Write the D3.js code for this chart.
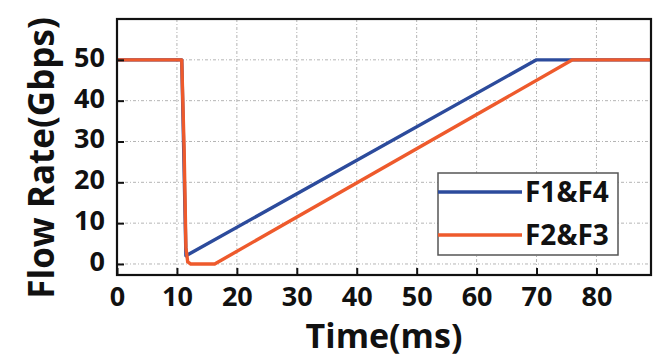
<!DOCTYPE html>
<html>
<head>
<meta charset="utf-8">
<script src="https://cdn.jsdelivr.net/npm/d3@7"></script>
<style>
  body { margin: 0; background: #fff; }
  svg text { font-family: "Open Sans", Lato, sans-serif; font-weight: 700; fill: #111; }
</style>
</head>
<body>
<svg id="chart" width="653" height="357"></svg>
<script>
// x ticks (ms) and y ticks (Gbps)
var xTicks = [0, 10, 20, 30, 40, 50, 60, 70, 80];
var yTicks = [0, 10, 20, 30, 40, 50];

// series: [time ms, rate Gbps]
var f1f4 = [[0, 50], [10.8, 50], [11.1, 30], [11.5, 2], [70, 50], [89, 50]];
var f2f3 = [[0, 50], [10.8, 50], [11.2, 28], [11.5, 4], [11.8, 0.5], [12.3, 0], [16.3, 0], [76, 50], [89, 50]];

var seriesNames = ['F1&F4', 'F2&F3'];
var seriesColors = ['#2c4b9c', '#ee5a2c'];

var svg = d3.select('#chart');
var margin = { top: 19, right: 2, bottom: 82, left: 117 };
var width = 653 - margin.left - margin.right,
    height = 357 - margin.top - margin.bottom;

var x = d3.scaleLinear().domain([0, 89.1]).range([0, width]);
var y = d3.scaleLinear().domain([-2.7, 60]).range([height, 0]);

var g = svg.append('g').attr('transform', 'translate(' + margin.left + ',' + margin.top + ')');

// dotted grid
g.append('g').selectAll('line.vg').data(xTicks.slice(1)).enter().append('line')
  .attr('x1', d => x(d)).attr('x2', d => x(d)).attr('y1', 0).attr('y2', height)
  .attr('stroke', '#b5b5b5').attr('stroke-width', 1).attr('stroke-dasharray', '3,2,1,2');
g.append('g').selectAll('line.hg').data(yTicks).enter().append('line')
  .attr('x1', 0).attr('x2', width).attr('y1', d => y(d)).attr('y2', d => y(d))
  .attr('stroke', '#b5b5b5').attr('stroke-width', 1).attr('stroke-dasharray', '3,2,1,2');

// lines
var line = d3.line().x(d => x(d[0])).y(d => y(d[1]));
[f1f4, f2f3].forEach(function(s, i) {
  g.append('path').datum(s).attr('d', line)
    .attr('fill', 'none').attr('stroke', seriesColors[i]).attr('stroke-width', 3.4)
    .attr('stroke-linejoin', 'round');
});

// axes, ticks pointing inward
var xAxis = g.append('g').attr('transform', 'translate(0,' + height + ')')
  .call(d3.axisBottom(x).tickValues(xTicks).tickSizeInner(-7).tickSizeOuter(0).tickPadding(12));
var yAxis = g.append('g')
  .call(d3.axisLeft(y).tickValues(yTicks).tickSizeInner(-7).tickSizeOuter(0).tickPadding(12));
[xAxis, yAxis].forEach(function(a) {
  a.select('.domain').remove();
  a.selectAll('line').attr('stroke', '#111').attr('stroke-width', 2);
  a.selectAll('text').style('font-size', '27px').style('font-family', '"Open Sans", sans-serif')
    .style('font-weight', 700).attr('fill', '#111');
});
yAxis.selectAll('text').attr('dy', '0.24em');

// frame
g.append('rect').attr('width', width).attr('height', height)
  .attr('fill', 'none').attr('stroke', '#111').attr('stroke-width', 2.2);

// axis titles
svg.append('text').attr('x', margin.left + width / 2).attr('y', 348)
  .attr('text-anchor', 'middle').style('font-size', '34px').text('Time(ms)');
svg.append('text').attr('transform', 'translate(54,158) rotate(-90)')
  .attr('text-anchor', 'middle').style('font-size', '35px').text('Flow Rate(Gbps)');

// legend
var leg = svg.append('g').attr('transform', 'translate(438,173)');
leg.append('rect').attr('width', 180).attr('height', 82)
  .attr('fill', '#fff').attr('stroke', '#555').attr('stroke-width', 1.5);
seriesNames.forEach(function(n, i) {
  var yy = 19 + i * 43;
  leg.append('line').attr('x1', 0).attr('x2', 84).attr('y1', yy).attr('y2', yy)
    .attr('stroke', seriesColors[i]).attr('stroke-width', 3.4);
  leg.append('text').attr('x', 87).attr('y', yy).attr('dy', '0.36em')
    .style('font-size', '28px').text(n);
});
</script>
</body>
</html>
